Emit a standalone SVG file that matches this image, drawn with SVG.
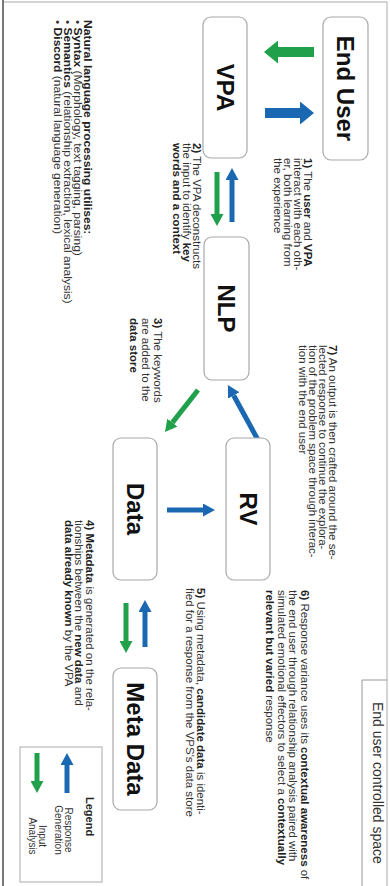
<svg xmlns="http://www.w3.org/2000/svg" width="390" height="886" viewBox="0 0 390 886">
<style>
.box{fill:#fff;stroke:#a8a8a8;stroke-width:1.2}
.lbl{font-family:"Liberation Sans",Arial,sans-serif;font-weight:bold;font-size:24px;fill:#111;text-anchor:middle}
.t{font-family:"Liberation Sans",Arial,sans-serif;font-size:10px;fill:#333}
.tn{font-family:"Liberation Sans",Arial,sans-serif;font-size:10.5px;fill:#333}
.b{font-weight:bold;fill:#222}
.g{stroke:#20a04b;fill:none}
.bl{stroke:#1a68b2;fill:none}
.big{stroke-width:10}
.sm{stroke-width:5}
</style>
<defs>
<marker id="bigG" markerUnits="userSpaceOnUse" markerWidth="14" markerHeight="23" refX="0" refY="11.5" orient="auto"><path d="M0,0 L14,11.5 L0,23 z" fill="#20a04b"/></marker>
<marker id="bigB" markerUnits="userSpaceOnUse" markerWidth="14" markerHeight="23" refX="0" refY="11.5" orient="auto"><path d="M0,0 L14,11.5 L0,23 z" fill="#1a68b2"/></marker>
<marker id="smG" markerUnits="userSpaceOnUse" markerWidth="12" markerHeight="13" refX="0" refY="6.5" orient="auto"><path d="M0,0 L12,6.5 L0,13 z" fill="#20a04b"/></marker>
<marker id="smB" markerUnits="userSpaceOnUse" markerWidth="12" markerHeight="13" refX="0" refY="6.5" orient="auto"><path d="M0,0 L12,6.5 L0,13 z" fill="#1a68b2"/></marker>
</defs>
<rect width="390" height="886" fill="#fff"/>
<g transform="translate(390,0) rotate(90)">
  <!-- frame -->
  <rect x="2" y="3" width="900" height="384" fill="none" stroke="#aaa" stroke-width="1"/>
  <line x1="0" y1="387" x2="886" y2="387" stroke="#777" stroke-width="2"/>
  <!-- tab -->
  <g id="tab">
    <path d="M680,3 L680,28 L886,28" fill="none" stroke="#999" stroke-width="1"/>
    <text x="702" y="17" font-family="Liberation Sans, Arial, sans-serif" font-size="14" fill="#333">End user controlled space</text>
  </g>

  <!-- connectors -->
  <g id="connectors">
    <line class="g big" x1="52" y1="76" x2="52" y2="112" marker-end="url(#bigG)"/>
    <line class="bl big" x1="113" y1="125" x2="113" y2="90" marker-end="url(#bigB)"/>
    <line class="g sm" x1="172" y1="173" x2="214" y2="173" marker-end="url(#smG)"/>
    <line class="bl sm" x1="222" y1="158" x2="180" y2="158" marker-end="url(#smB)"/>
    <line class="g sm" x1="390" y1="192" x2="422.6" y2="217.6" marker-end="url(#smG)"/>
    <line class="bl sm" x1="440" y1="132" x2="395.5" y2="156.3" marker-end="url(#smB)"/>
    <line class="bl sm" x1="510" y1="223" x2="510" y2="187" marker-end="url(#smB)"/>
    <line class="g sm" x1="603" y1="264" x2="641" y2="264" marker-end="url(#smG)"/>
    <line class="bl sm" x1="647" y1="245" x2="612" y2="245" marker-end="url(#smB)"/>
  </g>

  <!-- nodes -->
  <g id="end-user"><rect class="box" x="17" y="22" width="143" height="45" rx="8"/><text class="lbl" x="88.5" y="53">End User</text></g>
  <g id="vpa"><rect class="box" x="17" y="143" width="141" height="44" rx="8"/><text class="lbl" x="87.5" y="173.5">VPA</text></g>
  <g id="nlp"><rect class="box" x="237" y="141" width="143" height="45" rx="8"/><text class="lbl" x="308.5" y="172">NLP</text></g>
  <g id="rv"><rect class="box" x="438" y="120" width="142" height="44" rx="8"/><text class="lbl" x="509" y="150.5">RV</text></g>
  <g id="data"><rect class="box" x="438" y="233" width="142" height="44" rx="8"/><text class="lbl" x="509" y="263.5">Data</text></g>
  <g id="meta-data"><rect class="box" x="668" y="233" width="142" height="44" rx="8"/><text class="lbl" x="739" y="263.5">Meta Data</text></g>

  <!-- annotations -->
  <g id="note1" transform="translate(158,0) scale(1.15,1)">
    <text class="t" x="0" y="86.5"><tspan class="b">1)</tspan> The <tspan class="b">user</tspan> and <tspan class="b">VPA</tspan></text>
    <text class="t" x="0" y="96.5">interact with each oth-</text>
    <text class="t" x="0" y="106.5">er, both learning from</text>
    <text class="t" x="0" y="116.5">the experience</text>
  </g>
  <g id="note2" transform="translate(143,0) scale(1.15,1)">
    <text class="t" x="0" y="197.5"><tspan class="b">2)</tspan> The VPA deconstructs</text>
    <text class="t" x="0" y="207.5">the input to identify <tspan class="b">key</tspan></text>
    <text class="t" x="0" y="217.5"><tspan class="b">words and a context</tspan></text>
  </g>
  <g id="note-nlp" transform="translate(20,0) scale(1.15,1)">
    <text class="tn" x="0" y="305.7"><tspan class="b">Natural language processing utilises:</tspan></text>
    <text class="tn" x="0" y="315.7">• <tspan class="b">Syntax</tspan> (Morphology, text tagging, parsing)</text>
    <text class="tn" x="0" y="325.7">• <tspan class="b">Semantics</tspan> (relationship extraction, lexical analysis)</text>
    <text class="tn" x="0" y="335.7">• <tspan class="b">Discord</tspan> (natural language generation)</text>
  </g>
  <g id="note3" transform="translate(318,0) scale(1.15,1)">
    <text class="t" x="0" y="236.5"><tspan class="b">3)</tspan> The keywords</text>
    <text class="t" x="0" y="248.5">are added to the</text>
    <text class="t" x="0" y="260.5"><tspan class="b">data store</tspan></text>
  </g>
  <g id="note7" transform="translate(345,0) scale(1.15,1)">
    <text class="t" x="0" y="61.5"><tspan class="b">7)</tspan> An output is then crafted around the se-</text>
    <text class="t" x="0" y="71.5">lected response to continue the explora-</text>
    <text class="t" x="0" y="81.5">tion of the problem space through interac-</text>
    <text class="t" x="0" y="91.5">tion with the end user</text>
  </g>
  <g id="note6" transform="translate(590,0) scale(1.15,1)">
    <text class="t" x="0" y="89.5"><tspan class="b">6)</tspan> Response variance uses its <tspan class="b">contextual awareness</tspan> of</text>
    <text class="t" x="0" y="101">the end user through relationship analysis paired with</text>
    <text class="t" x="0" y="112.5">simulated emotional effectors to select a <tspan class="b">contextually</tspan></text>
    <text class="t" x="0" y="124"><tspan class="b">relevant but varied</tspan> response</text>
  </g>
  <g id="note5" transform="translate(588,0) scale(1.15,1)">
    <text class="t" x="0" y="193.5"><tspan class="b">5)</tspan> Using metadata, <tspan class="b">candidate data</tspan> is identi-</text>
    <text class="t" x="0" y="204.5">fied for a response from the VPS's data store</text>
  </g>
  <g id="note4" transform="translate(520,0) scale(1.15,1)">
    <text class="t" x="0" y="304.5"><tspan class="b">4) Metadata</tspan> is generated on the rela-</text>
    <text class="t" x="0" y="315">tionships between the <tspan class="b">new data</tspan> and</text>
    <text class="t" x="0" y="325.5"><tspan class="b">data already known</tspan> by the VPA</text>
  </g>

  <!-- legend -->
  <g id="legend">
    <rect x="747" y="288" width="135" height="82" fill="#fff" stroke="#aaa" stroke-width="1"/>
    <text x="797" y="304" font-family="Liberation Sans, Arial, sans-serif" font-size="11" font-weight="bold" fill="#222">Legend</text>
    <line class="bl sm" x1="793" y1="323" x2="765" y2="323" marker-end="url(#smB)"/>
    <line class="g sm" x1="753" y1="353" x2="781" y2="353" marker-end="url(#smG)"/>
    <text font-family="Liberation Sans, Arial, sans-serif" font-size="10" fill="#333" text-anchor="middle"><tspan x="830" y="325.5">Response</tspan><tspan x="830" y="335.5">Generation</tspan></text>
    <text font-family="Liberation Sans, Arial, sans-serif" font-size="10" fill="#333" text-anchor="middle"><tspan x="836" y="351.5">Input</tspan><tspan x="836" y="361.5">Analysis</tspan></text>
  </g>
</g>
</svg>
